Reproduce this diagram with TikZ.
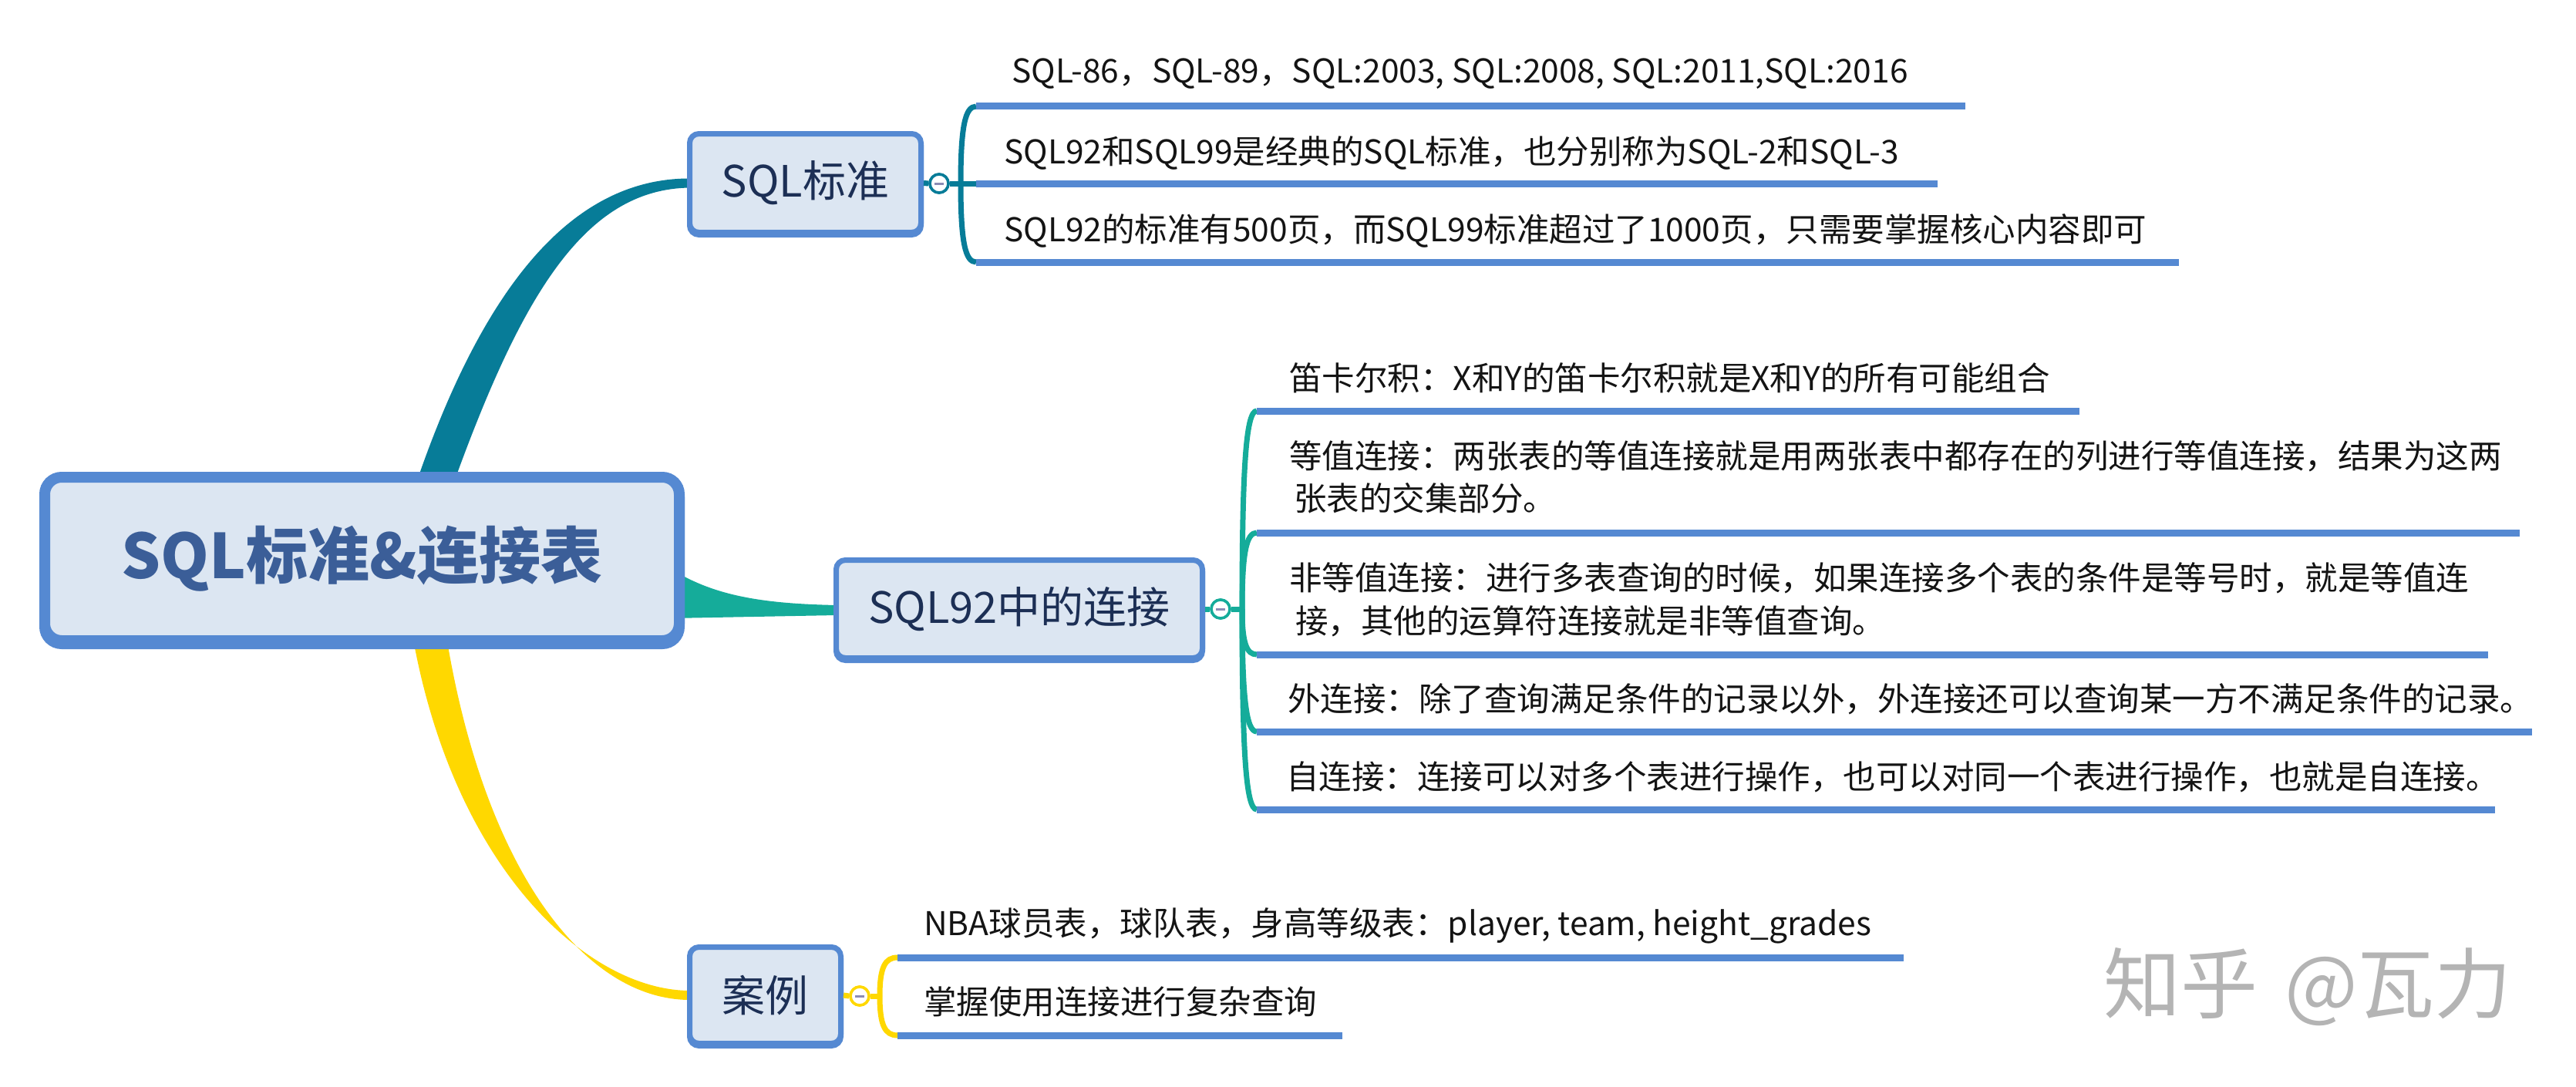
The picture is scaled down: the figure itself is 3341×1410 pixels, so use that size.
\documentclass[tikz,border=0pt]{standalone}
\usepackage{fontspec}
\setmainfont{Noto Sans CJK SC}
\usetikzlibrary{calc}
\definecolor{nodeblue}{HTML}{5589D2}
\definecolor{nodefill}{HTML}{DCE6F2}
\definecolor{tealA}{HTML}{077C98}
\definecolor{tealB}{HTML}{15AC9A}
\definecolor{yel}{HTML}{FFD800}
\definecolor{navy}{HTML}{1C2F55}
\definecolor{centertxt}{HTML}{3B5E98}
\definecolor{minusc}{HTML}{8C8CB4}
\definecolor{wmgray}{HTML}{B4B4B4}
\definecolor{inkc}{HTML}{141414}
\newcommand\kidline[3]{\draw[#1] let \p1=(#2), \p2=(#3) in (\p1) .. controls (\x1, {\y1+0.75*(\y2-\y1)}) and ({\x1+0.3*(\x2-\x1)}, \y2) .. (\p2);}
\begin{document}
\begin{tikzpicture}[x=1pt,y=-1pt,
  topic/.style={draw=nodeblue, fill=nodefill, rounded corners=12pt, line width=7pt, inner sep=0pt,
    text=navy, font=\fontsize{56}{60}\selectfont,
    preaction={draw=nodeblue, fill=nodeblue, transform canvas={yshift=-3pt}}},
  central/.style={draw=nodeblue, fill=nodefill, rounded corners=22pt, line width=14pt, inner sep=0pt,
    text=centertxt, font=\fontsize{80}{86}\selectfont\bfseries,
    preaction={draw=nodeblue, fill=nodeblue, transform canvas={yshift=-4pt}}},
  leaf/.style={anchor=base west, inner sep=0pt, text=inkc, font=\fontsize{42.5}{50}\selectfont},
  uline/.style={draw=nodeblue, line width=9pt},
  fold/.style={circle, fill=white, line width=3.5pt, minimum size=24pt, inner sep=0pt},
  minus/.style={draw=minusc, line width=3pt},
  wm/.style={inner sep=0pt, text=wmgray, font=\fontsize{100}{100}\selectfont}
]
\useasboundingbox (0,0) rectangle (3341,1410);
\fill[white] (0,0) rectangle (3341,1410);

% ---------- main branches (tapered) ----------
\coordinate (r1) at (556,650);
\coordinate (r2) at (870,770);
\coordinate (r3) at (553,800);
\coordinate (e1) at (895,237.5);
\coordinate (e2) at (1085,791);
\coordinate (e3) at (895,1291);

\fill[tealA] ($(r1)+(-24,0)$) .. controls (622,375) and (740,231) .. ($(e1)+(0,-6)$)
  -- ($(e1)+(0,6)$) .. controls (755,245) and (672,390) .. ($(r1)+(24,0)$) -- cycle;
\fill[tealB] ($(r2)+(0,-32)$) .. controls (925,772) and (985,783) .. ($(e2)+(0,-6)$)
  -- ($(e2)+(0,7)$) -- ($(r2)+(0,32)$) -- cycle;
\fill[yel] ($(r3)+(-22,0)$) .. controls (580,1120) and (760,1285) .. ($(e3)+(0,-6)$)
  -- ($(e3)+(0,6)$) .. controls (750,1297) and (620,1110) .. ($(r3)+(22,0)$) -- cycle;

% ---------- nodes ----------
\node[central, minimum width=823pt, minimum height=212pt] (root) at (469.5,725) {SQL标准\&连接表};
\node[topic, minimum width=300pt, minimum height=128pt] (n1) at (1044.5,237.5) {SQL标准};
\node[topic, minimum width=475pt, minimum height=127pt] (n2) at (1322,790) {SQL92中的连接};
\node[topic, minimum width=196pt, minimum height=125pt] (n3) at (992.5,1291) {案例};

% ---------- fold circles and junctions ----------
\node[fold, draw=tealA] (c1) at (1218,238) {};
\node[fold, draw=tealB] (c2) at (1583,790) {};
\node[fold, draw=yel] (c3) at (1115,1292) {};
\coordinate (j1) at (1246,238);
\coordinate (j2) at (1611,790);
\coordinate (j3) at (1141,1292);

\draw[tealA, line width=7pt] (n1.east) -- (c1.west);
\draw[tealA, line width=7pt] (c1.east) -- (j1);
\draw[tealB, line width=7pt] (n2.east) -- (c2.west);
\draw[tealB, line width=7pt] (c2.east) -- (j2);
\draw[yel, line width=7pt] (n3.east) -- (c3.west);
\draw[yel, line width=7pt] (c3.east) -- (j3);

% ---------- underline coordinates ----------
\coordinate (a1s) at (1266,138);  \coordinate (a1e) at (2549,138);
\coordinate (a2s) at (1266,238);  \coordinate (a2e) at (2513,238);
\coordinate (a3s) at (1266,340);  \coordinate (a3e) at (2826,340);
\coordinate (b1s) at (1630,533);  \coordinate (b1e) at (2697,533);
\coordinate (b2s) at (1630,691);  \coordinate (b2e) at (3268,691);
\coordinate (b3s) at (1630,849);  \coordinate (b3e) at (3227,849);
\coordinate (b4s) at (1630,949);  \coordinate (b4e) at (3284,949);
\coordinate (b5s) at (1630,1050); \coordinate (b5e) at (3236,1050);
\coordinate (c1s) at (1164,1242); \coordinate (c1e) at (2469,1242);
\coordinate (c2s) at (1164,1343); \coordinate (c2e) at (1741,1343);

% ---------- child curves ----------
\kidline{tealA, line width=7pt}{j1}{a1s}
\draw[tealA, line width=7pt] (j1) -- (a2s);
\kidline{tealA, line width=7pt}{j1}{a3s}
\kidline{tealB, line width=7pt}{j2}{b1s}
\kidline{tealB, line width=7pt}{j2}{b2s}
\kidline{tealB, line width=7pt}{j2}{b3s}
\kidline{tealB, line width=7pt}{j2}{b4s}
\kidline{tealB, line width=7pt}{j2}{b5s}
\kidline{yel, line width=7pt}{j3}{c1s}
\kidline{yel, line width=7pt}{j3}{c2s}

% ---------- underlines ----------
\foreach \u in {a1,a2,a3,b1,b2,b3,b4,b5,c1,c2}{\draw[uline] (\u s) -- (\u e);}

% ---------- fold circles on top ----------
\node[fold, draw=tealA] (c1top) at (c1) {};
\node[fold, draw=tealB] (c2top) at (c2) {};
\node[fold, draw=yel] (c3top) at (c3) {};
\foreach \c in {c1,c2,c3}{\draw[minus] ($(\c)+(-6,0)$) -- ($(\c)+(6,0)$);}

% ---------- leaf texts ----------
\node[leaf] (ta1) at (1312,108) {SQL-86，SQL-89，SQL:2003, SQL:2008, SQL:2011,SQL:2016};
\node[leaf] (ta2) at (1302,212) {SQL92和SQL99是经典的SQL标准，也分别称为SQL-2和SQL-3};
\node[leaf] (ta3) at (1302,313) {SQL92的标准有500页，而SQL99标准超过了1000页，只需要掌握核心内容即可};
\node[leaf] (tb1) at (1672,506) {笛卡尔积：X和Y的笛卡尔积就是X和Y的所有可能组合};
\node[leaf] (tb2) at (1672,607) {等值连接：两张表的等值连接就是用两张表中都存在的列进行等值连接，结果为这两};
\node[leaf] (tb2b) at (1678,662) {张表的交集部分。};
\node[leaf] (tb3) at (1672,765) {非等值连接：进行多表查询的时候，如果连接多个表的条件是等号时，就是等值连};
\node[leaf] (tb3b) at (1680,821) {接，其他的运算符连接就是非等值查询。};
\node[leaf] (tb4) at (1670,922) {外连接：除了查询满足条件的记录以外，外连接还可以查询某一方不满足条件的记录。};
\node[leaf] (tb5) at (1668,1023) {自连接：连接可以对多个表进行操作，也可以对同一个表进行操作，也就是自连接。};
\node[leaf] (tc1) at (1198,1213) {NBA球员表，球队表，身高等级表：player, team, height\_grades};
\node[leaf] (tc2) at (1198,1315) {掌握使用连接进行复杂查询};

% ---------- watermark ----------
\node[wm, anchor=base west] (w1) at (2728,1313) {知乎};
\node[wm, anchor=base east] (w2) at (3258,1313) {@瓦力};
\end{tikzpicture}
\end{document}
